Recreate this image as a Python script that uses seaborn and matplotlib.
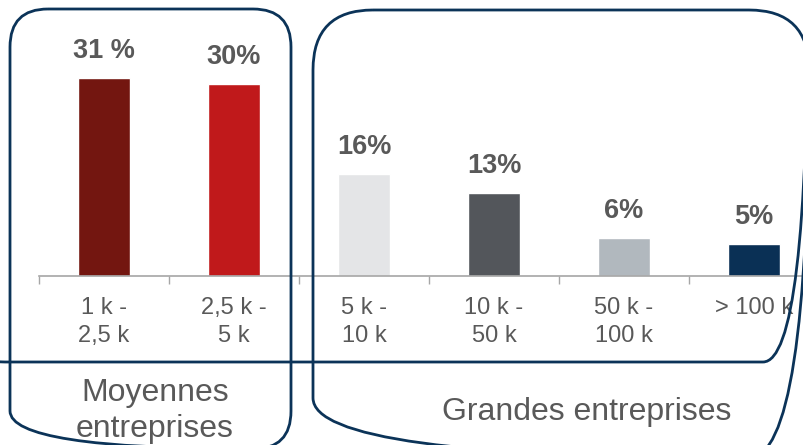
import numpy as np
import pandas as pd
import matplotlib
matplotlib.use("Agg")
import matplotlib.pyplot as plt
from matplotlib.patches import FancyBboxPatch
import seaborn as sns

# data
categories = ["1 k -\n2,5 k", "2,5 k -\n5 k", "5 k -\n10 k", "10 k -\n50 k", "50 k -\n100 k", "> 100 k"]
values = [31, 30, 16, 13, 6, 5]
value_labels = ["31 %", "30%", "16%", "13%", "6%", "5%"]
bar_colors = ["#731610", "#C0191B", "#E4E5E7", "#53565B", "#B1B8BE", "#0A3055"]
group_names = ["Moyennes\nentreprises", "Grandes entreprises"]

sns.set_style("white")
plt.rcParams['font.family'] = ['Liberation Sans', 'DejaVu Sans']
txt = "#595959"
navy = "#0B3358"

W, H = 804, 445
fig = plt.figure(figsize=(W / 100, H / 100), dpi=100)

# axes placed in pixel terms: baseline at y=276, categories 130 px apart starting at x=39
ax = fig.add_axes([39 / W, (H - 276) / H, 780 / W, 256 / H])
df = pd.DataFrame({"cat": categories, "val": values})
sns.barplot(data=df, x="cat", y="val", hue="cat", palette=bar_colors,
            legend=False, width=0.4, saturation=1, ax=ax)
ax.set_xlim(-0.5, 5.5)
ax.set_ylim(0, 40)
ax.set_xlabel("")
ax.set_ylabel("")
ax.set_yticks([])
for s in ["top", "left", "right"]:
    ax.spines[s].set_visible(False)
ax.spines["bottom"].set_color("#A6A6A6")
ax.spines["bottom"].set_linewidth(1.2)
ax.set_xticks(np.arange(-0.5, 6, 1), minor=True)
ax.tick_params(axis="x", which="minor", length=6, width=1, color="#A6A6A6", direction="out", bottom=True)
ax.tick_params(axis="x", which="major", length=0, pad=15, labelsize=17, labelcolor=txt)
for lab in ax.get_xticklabels():
    lab.set_linespacing(1.35)

for i, (v, s) in enumerate(zip(values, value_labels)):
    ax.annotate(s, (i, v), xytext=(0, 10), textcoords="offset points",
                ha="center", va="bottom", fontsize=19.5, fontweight="bold", color=txt)

# overlay in pixel coordinates for group boxes
ov = fig.add_axes([0, 0, 1, 1], zorder=5)
ov.set_xlim(0, W)
ov.set_ylim(H, 0)
ov.axis("off")
ov.patch.set_alpha(0)
boxes = [
    (10, 9, 281, 440, 38),
    (313, 10, 496, 448, 60),
    (-40, -60, 848, 422, 45),
]
for x0, y0, w, h, r in boxes:
    ov.add_patch(FancyBboxPatch((x0, y0), w, h, boxstyle=f"round,pad=0,rounding_size={r}",
                                fill=False, edgecolor=navy, linewidth=2))

ov.text(155, 411, group_names[0], ha="center", va="center", fontsize=23, color=txt, linespacing=1.3)
ov.text(587, 412, group_names[1], ha="center", va="center", fontsize=23, color=txt)

fig.savefig("out.png", dpi=100)
